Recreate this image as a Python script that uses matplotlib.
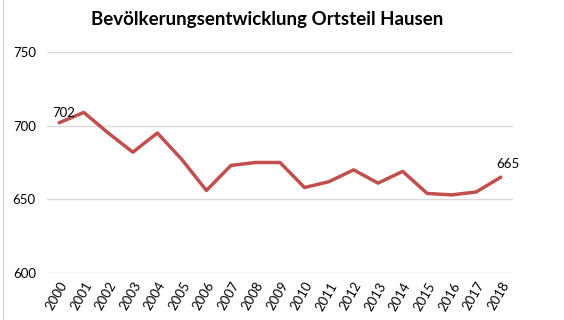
import matplotlib.pyplot as plt
from matplotlib.lines import Line2D

jahre = [str(j) for j in range(2000, 2019)]
einwohner = [702, 709, 695, 682, 695, 677, 656, 673, 675, 675,
             658, 662, 670, 661, 669, 654, 653, 655, 665]
y_ticks = [600, 650, 700, 750]

plt.rcParams['font.family'] = ['Lato', 'DejaVu Sans']

fig = plt.figure(figsize=(5.64, 3.2), dpi=100)
ax = fig.add_axes([0.0833, 0.1469, 0.8263, 0.6906])

x = range(len(jahre))
ax.plot(x, einwohner, color='#c0504d', linewidth=2.5, solid_capstyle='round')

# Werte am Anfang und Ende beschriften
ax.annotate(str(einwohner[0]), (0, einwohner[0]), xytext=(-5, 3),
            textcoords='offset points', fontsize=9.5, ha='left', va='bottom')
ax.annotate(str(einwohner[-1]), (len(jahre) - 1, einwohner[-1]), xytext=(-3, 5),
            textcoords='offset points', fontsize=9.5, ha='left', va='bottom')

ax.set_xlim(-0.5, len(jahre) - 0.5)
ax.set_ylim(600, 750)
ax.set_yticks(y_ticks)
ax.set_xticks(list(x))
ax.set_xticklabels(jahre, rotation=60, ha='right', va='top', rotation_mode='anchor')
ax.tick_params(axis='both', length=0, labelsize=9.5, colors='#000000')
ax.tick_params(axis='y', pad=8)
ax.tick_params(axis='x', pad=5)
ax.grid(axis='y', color='#d9d9d9', linewidth=1)
ax.set_axisbelow(True)
for s in ax.spines.values():
    s.set_visible(False)

fig.text(0.474, 0.94, 'Bevölkerungsentwicklung Ortsteil Hausen', ha='center', va='center',
         fontsize=13.5, fontweight='bold')

# linker Rahmen
fig.add_artist(Line2D([0.006, 0.006], [0, 1], color='#d9d9d9', linewidth=1))

fig.savefig('out.png', dpi=100)
